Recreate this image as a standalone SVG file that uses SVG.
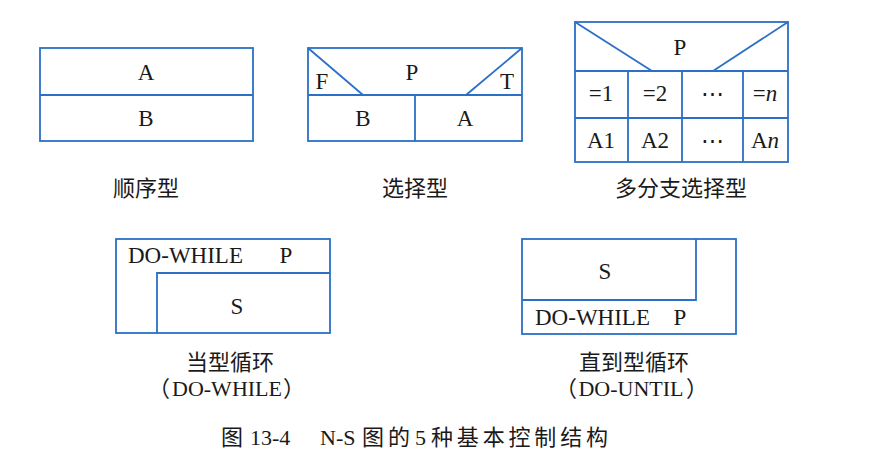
<svg xmlns="http://www.w3.org/2000/svg" width="884" height="474" viewBox="0 0 884 474">
<style>
.b{fill:none;stroke:#2b70c6;stroke-width:1.8}
.l{stroke:#2b70c6;stroke-width:1.8;fill:none}
.t{font-family:"Liberation Serif","Times New Roman",serif;font-size:23px;fill:#1a1a1a}
.c{font-family:"Noto Sans CJK SC",sans-serif;font-size:22px;fill:#1a1a1a}
.s{font-family:"Liberation Serif","Times New Roman",serif;font-size:22px;fill:#1a1a1a}
.m{text-anchor:middle}
</style>
<rect width="884" height="474" fill="#ffffff"/>
<g id="seq">
<rect class="b" x="40" y="48" width="213" height="93"/>
<line class="l" x1="40" y1="95" x2="253" y2="95"/>
<text class="t m" x="146" y="80">A</text>
<text class="t m" x="146" y="126">B</text>
<text class="c m" x="146" y="196">顺序型</text>
</g>
<g id="sel">
<rect class="b" x="308" y="48" width="214" height="93"/>
<line class="l" x1="308" y1="95" x2="522" y2="95"/>
<line class="l" x1="415" y1="95" x2="415" y2="141"/>
<line class="l" x1="308" y1="48" x2="363" y2="95"/>
<line class="l" x1="522" y1="48" x2="466" y2="95"/>
<text class="t m" x="412" y="80">P</text>
<text class="t m" x="322" y="89">F</text>
<text class="t m" x="507" y="89">T</text>
<text class="t m" x="363" y="126">B</text>
<text class="t m" x="465" y="126">A</text>
<text class="c m" x="415" y="196">选择型</text>
</g>
<g id="multi">
<rect class="b" x="575" y="22" width="213" height="140"/>
<line class="l" x1="575" y1="71" x2="788" y2="71"/>
<line class="l" x1="575" y1="118" x2="788" y2="118"/>
<line class="l" x1="628" y1="71" x2="628" y2="162"/>
<line class="l" x1="682" y1="71" x2="682" y2="162"/>
<line class="l" x1="743" y1="71" x2="743" y2="162"/>
<line class="l" x1="575" y1="22" x2="652" y2="71"/>
<line class="l" x1="788" y1="22" x2="713" y2="71"/>
<text class="t m" x="680" y="55">P</text>
<text class="t m" x="601" y="101">=1</text>
<text class="t m" x="655" y="101">=2</text>
<text class="t m" x="712" y="101">⋯</text>
<text class="t m" x="765" y="101">=<tspan font-style="italic">n</tspan></text>
<text class="t m" x="601" y="148">A1</text>
<text class="t m" x="655" y="148">A2</text>
<text class="t m" x="712" y="148">⋯</text>
<text class="t m" x="765" y="148">A<tspan font-style="italic">n</tspan></text>
<text class="c m" x="681" y="196">多分支选择型</text>
</g>
<g id="dowhile">
<rect class="b" x="116" y="239" width="214" height="94"/>
<polyline class="l" points="157,333 157,273 330,273"/>
<text class="t" x="128" y="263">DO-WHILE</text>
<text class="t m" x="286" y="263">P</text>
<text class="t m" x="237" y="314">S</text>
<text class="c m" x="230" y="370">当型循环</text>
<text class="c" x="148" y="396">（</text>
<text class="s m" x="227" y="396">DO-WHILE</text>
<text class="c" x="283" y="396">）</text>
</g>
<g id="dountil">
<rect class="b" x="522" y="239" width="214" height="95"/>
<polyline class="l" points="522,300 696,300 696,239"/>
<text class="t m" x="605" y="279">S</text>
<text class="t" x="535" y="325">DO-WHILE</text>
<text class="t m" x="680" y="325">P</text>
<text class="c m" x="634" y="370">直到型循环</text>
<text class="c" x="555" y="396">（</text>
<text class="s m" x="631" y="396">DO-UNTIL</text>
<text class="c" x="686" y="396">）</text>
</g>
<g id="connectors"></g>
<g id="caption">
<text class="c" x="221" y="445" font-size="23">图</text>
<text class="s" x="250" y="445">13-4</text>
<text class="s" x="320" y="445">N-S</text>
<text class="c" x="362" y="445" font-size="23" textLength="48" lengthAdjust="spacing">图的</text>
<text class="s" x="415" y="445">5</text>
<text class="c" x="431" y="445" font-size="23" textLength="177" lengthAdjust="spacing">种基本控制结构</text>
</g>
</svg>
